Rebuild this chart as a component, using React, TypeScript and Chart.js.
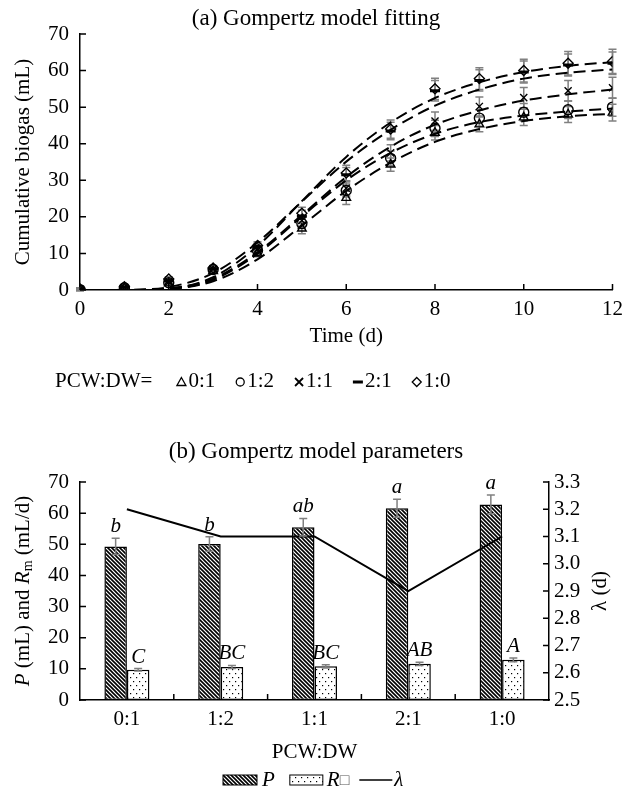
import React, { useEffect, useRef } from 'react';
import { Chart, registerables } from 'chart.js';
Chart.register(...registerables);

const FONT = "'Liberation Serif', 'Times New Roman', 'DejaVu Serif', serif";

// ---------- (a) Gompertz model fitting ----------
const days = [0, 1, 2, 3, 4, 5, 6, 7, 8, 9, 10, 11, 12];
const seriesLabels = ['0:1', '1:2', '1:1', '2:1', '1:0'];

// observed cumulative biogas (mL)
const obs01 = [0.1, 0.5, 1.8, 5.2, 10.0, 16.8, 25.2, 34.3, 43.0, 45.3, 47.2, 48.0, 48.5];
const obs12 = [0.1, 0.6, 2.0, 5.6, 10.8, 18.2, 27.2, 36.0, 44.2, 47.0, 48.6, 49.3, 50.0];
const obs11 = [0.2, 0.7, 2.2, 5.7, 11.2, 19.0, 27.8, 37.5, 46.2, 50.2, 52.6, 54.5, 55.3];
const obs21 = [0.2, 0.8, 2.5, 5.8, 11.8, 20.2, 31.5, 43.5, 54.5, 57.3, 59.6, 61.5, 62.0];
const obs10 = [0.3, 0.9, 3.0, 6.0, 12.2, 21.0, 32.0, 44.0, 55.0, 57.8, 60.0, 62.0, 62.5];

// standard deviations
const err01 = [0.3, 0.4, 0.5, 0.6, 0.9, 1.4, 1.8, 1.8, 2.0, 2.0, 2.2, 2.2, 2.3];
const err12 = [0.3, 0.4, 0.5, 0.6, 0.9, 1.4, 1.8, 2.0, 2.2, 2.2, 2.4, 2.4, 2.5];
const err11 = [0.3, 0.4, 0.6, 0.6, 1.0, 1.5, 2.0, 2.2, 2.5, 2.6, 2.8, 2.8, 2.9];
const err21 = [0.3, 0.4, 0.6, 0.7, 1.0, 1.6, 2.0, 2.4, 2.8, 2.9, 3.0, 3.0, 3.1];
const err10 = [0.3, 0.5, 0.6, 0.7, 1.0, 1.6, 2.1, 2.5, 2.9, 3.0, 3.1, 3.2, 3.3];

// fitted Gompertz curves (mL)
const fit01 = [0, 0.01, 0.3, 2.4, 8.4, 17.6, 27.1, 34.8, 40.5, 44.0, 46.2, 47.5, 48.2];
const fit12 = [0, 0.01, 0.3, 2.8, 9.9, 20.1, 30.0, 37.5, 42.7, 45.9, 47.7, 48.8, 49.6];
const fit11 = [0, 0.02, 0.4, 3.1, 10.3, 20.5, 30.9, 39.2, 45.2, 49.1, 51.8, 53.5, 54.8];
const fit21 = [0, 0.05, 0.8, 4.6, 13.0, 24.2, 35.1, 43.8, 50.4, 54.8, 57.8, 59.4, 60.3];
const fit10 = [0, 0.01, 0.4, 3.5, 12.0, 24.3, 36.4, 45.8, 52.5, 56.8, 59.6, 61.3, 62.3];

// ---------- (b) Gompertz model parameters ----------
const ratioLabels = ['0:1', '1:2', '1:1', '2:1', '1:0'];
const pValues = [49.3, 50.1, 55.5, 61.6, 62.8];
const pErrors = [2.6, 2.3, 2.8, 2.9, 3.0];
const rmValues = [9.7, 10.6, 10.8, 11.6, 12.9];
const rmErrors = [0.4, 0.5, 0.5, 0.5, 0.6];
const lambdaValues = [3.2, 3.1, 3.1, 2.9, 3.1];
const pLetters = ['b', 'b', 'ab', 'a', 'a'];
const rmLetters = ['C', 'BC', 'BC', 'AB', 'A'];

const f = (size: number, style = '') => `${style} ${size}px ${FONT}`.trim();

function makeHatch(): CanvasPattern | string {
  const c = document.createElement('canvas');
  c.width = 4; c.height = 4;
  const x = c.getContext('2d')!;
  x.fillStyle = '#fff'; x.fillRect(0, 0, 4, 4);
  x.strokeStyle = '#000'; x.lineWidth = 1.6;
  x.beginPath();
  x.moveTo(-1, -1); x.lineTo(5, 5);
  x.moveTo(-1, 3); x.lineTo(1, 5);
  x.moveTo(3, -1); x.lineTo(5, 1);
  x.stroke();
  return x.createPattern(c, 'repeat') || '#444';
}
function makeDots(): CanvasPattern | string {
  const c = document.createElement('canvas');
  c.width = 6; c.height = 8;
  const x = c.getContext('2d')!;
  x.fillStyle = '#fff'; x.fillRect(0, 0, 6, 8);
  x.fillStyle = '#000';
  x.fillRect(1, 1, 1.2, 1.2);
  x.fillRect(4, 5, 1.2, 1.2);
  return x.createPattern(c, 'repeat') || '#eee';
}

function drawErrorBars(chart: any) {
  const ctx = chart.ctx;
  chart.data.datasets.forEach((ds: any, i: number) => {
    if (!ds.errorBars) return;
    const meta = chart.getDatasetMeta(i);
    const ys = chart.scales[meta.yAxisID];
    ctx.save();
    ctx.strokeStyle = '#808080';
    ctx.lineWidth = 1.5;
    meta.data.forEach((el: any, j: number) => {
      const raw = ds.data[j];
      const v = typeof raw === 'number' ? raw : raw.y;
      const e = ds.errorBars[j];
      const x = el.x;
      const yt = ys.getPixelForValue(v + e);
      const yb = ys.getPixelForValue(v - e);
      ctx.beginPath();
      ctx.moveTo(x, yt); ctx.lineTo(x, yb);
      ctx.moveTo(x - 4, yt); ctx.lineTo(x + 4, yt);
      ctx.moveTo(x - 4, yb); ctx.lineTo(x + 4, yb);
      ctx.stroke();
      if (ds.letters) {
        ctx.fillStyle = '#000';
        ctx.font = f(21, 'italic');
        ctx.textAlign = 'center';
        ctx.textBaseline = 'alphabetic';
        ctx.fillText(ds.letters[j], x, yt - 6);
      }
    });
    ctx.restore();
  });
}

const errorBarsBefore = { id: 'errBefore', beforeDatasetsDraw: (c: any) => drawErrorBars(c) };
const errorBarsAfter = { id: 'errAfter', afterDatasetsDraw: (c: any) => drawErrorBars(c) };

const innerTicks = {
  id: 'innerTicks',
  afterDraw(chart: any) {
    const ctx = chart.ctx;
    const { left, right, bottom } = chart.chartArea;
    const len = 6;
    ctx.save();
    ctx.strokeStyle = '#000';
    ctx.lineWidth = 1.5;
    ctx.beginPath();
    Object.values(chart.scales).forEach((s: any) => {
      if (s.axis === 'x') {
        if (s.type === 'category') {
          for (let i = 1; i < s.ticks.length; i++) {
            const x = s.getPixelForValue(i - 0.5);
            ctx.moveTo(x, bottom); ctx.lineTo(x, bottom - len);
          }
        } else {
          s.ticks.forEach((t: any) => {
            const x = s.getPixelForValue(t.value);
            ctx.moveTo(x, bottom); ctx.lineTo(x, bottom - len);
          });
        }
      } else {
        s.ticks.forEach((t: any) => {
          const y = s.getPixelForValue(t.value);
          if (s.position === 'left') { ctx.moveTo(left, y); ctx.lineTo(left + len, y); }
          else { ctx.moveTo(right, y); ctx.lineTo(right - len, y); }
        });
      }
    });
    ctx.stroke();
    ctx.restore();
  },
};

function drawSymbol(ctx: CanvasRenderingContext2D, kind: string, cx: number, cy: number) {
  ctx.save();
  ctx.strokeStyle = '#000';
  ctx.fillStyle = '#000';
  ctx.lineWidth = 1.3;
  ctx.beginPath();
  if (kind === 'triangle') {
    ctx.moveTo(cx, cy - 4.5); ctx.lineTo(cx - 4.5, cy + 3.5); ctx.lineTo(cx + 4.5, cy + 3.5); ctx.closePath(); ctx.stroke();
  } else if (kind === 'circle') {
    ctx.arc(cx, cy, 4, 0, Math.PI * 2); ctx.stroke();
  } else if (kind === 'crossRot') {
    ctx.moveTo(cx - 4, cy - 4); ctx.lineTo(cx + 4, cy + 4);
    ctx.moveTo(cx + 4, cy - 4); ctx.lineTo(cx - 4, cy + 4);
    ctx.lineWidth = 1.8; ctx.stroke();
  } else if (kind === 'line') {
    ctx.fillRect(cx - 5, cy - 1.5, 10, 3);
  } else if (kind === 'rectRot') {
    ctx.moveTo(cx, cy - 4.5); ctx.lineTo(cx + 4.5, cy); ctx.lineTo(cx, cy + 4.5); ctx.lineTo(cx - 4.5, cy); ctx.closePath(); ctx.stroke();
  }
  ctx.restore();
}

const pointStyles = ['triangle', 'circle', 'crossRot', 'line', 'rectRot'];
const observed = [obs01, obs12, obs11, obs21, obs10];
const errors = [err01, err12, err11, err21, err10];
const fits = [fit01, fit12, fit11, fit21, fit10];

const topText = {
  id: 'topText',
  afterDraw(chart: any) {
    const ctx = chart.ctx;
    const ca = chart.chartArea;
    ctx.save();
    ctx.fillStyle = '#000';
    ctx.textAlign = 'center';
    ctx.textBaseline = 'middle';
    ctx.font = f(23);
    ctx.fillText('(a) Gompertz model fitting', 316, 19);
    ctx.font = f(21);
    ctx.fillText('Time (d)', (ca.left + ca.right) / 2, 336);
    ctx.save();
    ctx.translate(23, (ca.top + ca.bottom) / 2);
    ctx.rotate(-Math.PI / 2);
    ctx.fillText('Cumulative biogas (mL)', 0, 0);
    ctx.restore();
    // legend
    const ly = 381;
    ctx.textAlign = 'left';
    let x = 55;
    const head = 'PCW:DW=';
    ctx.fillText(head, x, ly);
    x += ctx.measureText(head).width + 25;
    seriesLabels.forEach((lab, i) => {
      drawSymbol(ctx, pointStyles[i], x + 4, ly + 1);
      ctx.fillText(lab, x + 11, ly);
      x += 11 + ctx.measureText(lab).width + 21;
    });
    ctx.restore();
  },
};

function richParts() {
  return [
    { t: 'P', font: f(21, 'italic'), dy: 0 },
    { t: ' (mL) and ', font: f(21), dy: 0 },
    { t: 'R', font: f(21, 'italic'), dy: 0 },
    { t: 'm', font: f(14), dy: 5 },
    { t: ' (mL/d)', font: f(21), dy: 0 },
  ];
}

function makeBottomText(hatch: any, dots: any) {
  return {
    id: 'botText',
    afterDraw(chart: any) {
      const ctx = chart.ctx;
      const ca = chart.chartArea;
      const midY = (ca.top + ca.bottom) / 2;
      ctx.save();
      ctx.fillStyle = '#000';
      ctx.textAlign = 'center';
      ctx.textBaseline = 'middle';
      ctx.font = f(23);
      ctx.fillText('(b) Gompertz model parameters', 316, 52);
      ctx.font = f(21);
      ctx.fillText('PCW:DW', (ca.left + ca.right) / 2, 352);
      // right title
      ctx.save();
      ctx.translate(600, midY);
      ctx.rotate(-Math.PI / 2);
      ctx.fillText('λ (d)', 0, 0);
      ctx.restore();
      // left rich title
      ctx.save();
      ctx.translate(23, midY);
      ctx.rotate(-Math.PI / 2);
      const parts = richParts();
      let total = 0;
      parts.forEach(p => { ctx.font = p.font; total += ctx.measureText(p.t).width; });
      let px = -total / 2;
      ctx.textAlign = 'left';
      parts.forEach(p => {
        ctx.font = p.font;
        ctx.fillText(p.t, px, p.dy);
        px += ctx.measureText(p.t).width;
      });
      ctx.restore();
      // legend
      const ly = 380;
      ctx.textAlign = 'left';
      let x = 223;
      ctx.fillStyle = hatch; ctx.fillRect(x, ly - 5, 34, 10);
      ctx.strokeStyle = '#000'; ctx.lineWidth = 1; ctx.strokeRect(x, ly - 5, 34, 10);
      x += 39;
      ctx.fillStyle = '#000'; ctx.font = f(21, 'italic');
      ctx.fillText('P', x, ly);
      x += ctx.measureText('P').width + 15;
      ctx.fillStyle = dots; ctx.fillRect(x, ly - 5, 33, 10);
      ctx.strokeRect(x, ly - 5, 33, 10);
      x += 37;
      ctx.fillStyle = '#000'; ctx.font = f(21, 'italic');
      ctx.fillText('R', x, ly);
      x += ctx.measureText('R').width;
      ctx.font = f(16);
      ctx.fillStyle = '#555';
      ctx.fillText('□', x, ly + 1);
      x += ctx.measureText('□').width + 10;
      ctx.strokeStyle = '#000'; ctx.lineWidth = 1.5;
      ctx.beginPath(); ctx.moveTo(x, ly); ctx.lineTo(x + 33, ly); ctx.stroke();
      x += 35;
      ctx.fillStyle = '#000'; ctx.font = f(21, 'italic');
      ctx.fillText('λ', x, ly);
      ctx.restore();
    },
  };
}

const axisBorder = { display: true, color: '#000', width: 1.5 };
const noGrid = { display: false, drawTicks: false };

export default function App() {
  const topRef = useRef<HTMLCanvasElement>(null);
  const botRef = useRef<HTMLCanvasElement>(null);

  useEffect(() => {
    Chart.defaults.font.family = FONT;
    Chart.defaults.color = '#000';

    const fitSets = fits.map((fit, i) => ({
      type: 'line',
      label: 'fit ' + seriesLabels[i],
      data: days.map((d, k) => ({ x: d, y: fit[k] })),
      borderColor: '#000',
      borderWidth: 2,
      borderDash: [12, 6],
      pointRadius: 0,
      cubicInterpolationMode: 'monotone',
      fill: false,
      order: 2,
    }));
    const obsSets = observed.map((obs, i) => ({
      type: 'line',
      label: seriesLabels[i],
      data: days.map((d, k) => ({ x: d, y: obs[k] })),
      showLine: false,
      pointStyle: pointStyles[i],
      pointRadius: 5,
      pointBorderColor: '#000',
      pointBackgroundColor: 'rgba(255,255,255,0)',
      pointBorderWidth: pointStyles[i] === 'line' ? 3 : 1.4,
      errorBars: errors[i],
      order: 1,
    }));

    const top = new Chart(topRef.current!, {
      type: 'line',
      data: { datasets: [...fitSets, ...obsSets] as any },
      options: {
        responsive: false,
        animation: false,
        devicePixelRatio: 1,
        layout: { padding: { top: 34, right: 11, left: 0, bottom: 0 } },
        plugins: { legend: { display: false }, tooltip: { enabled: false }, title: { display: false } },
        scales: {
          x: {
            type: 'linear', min: 0, max: 12,
            ticks: { stepSize: 2, font: { size: 21 }, padding: 7, color: '#000', autoSkip: false, maxRotation: 0 },
            grid: noGrid, border: axisBorder,
            afterFit: (s: any) => { s.height = 110; },
          },
          y: {
            type: 'linear', min: 0, max: 70,
            ticks: { stepSize: 10, font: { size: 21 }, padding: 11, color: '#000', autoSkip: false },
            grid: noGrid, border: axisBorder,
            afterFit: (s: any) => { s.width = 80; },
          },
        },
      } as any,
      plugins: [errorBarsBefore, innerTicks, topText],
    });

    const hatch = makeHatch();
    const dots = makeDots();

    const bot = new Chart(botRef.current!, {
      type: 'bar',
      data: {
        labels: ratioLabels,
        datasets: [
          {
            type: 'line',
            label: 'λ',
            data: lambdaValues,
            yAxisID: 'y1',
            borderColor: '#000',
            borderWidth: 2,
            pointRadius: 0,
            tension: 0,
            fill: false,
            order: -1,
          },
          {
            type: 'bar',
            label: 'P',
            data: pValues,
            yAxisID: 'y',
            backgroundColor: hatch,
            borderColor: '#000',
            borderWidth: 1.5,
            borderSkipped: false,
            categoryPercentage: 0.48,
            barPercentage: 1,
            errorBars: pErrors,
            letters: pLetters,
            order: 1,
          },
          {
            type: 'bar',
            label: 'Rm',
            data: rmValues,
            yAxisID: 'y',
            backgroundColor: dots,
            borderColor: '#000',
            borderWidth: 1.5,
            borderSkipped: false,
            categoryPercentage: 0.48,
            barPercentage: 1,
            errorBars: rmErrors,
            letters: rmLetters,
            order: 1,
          },
        ] as any,
      },
      options: {
        responsive: false,
        animation: false,
        devicePixelRatio: 1,
        layout: { padding: { top: 82, right: 0, left: 0, bottom: 0 } },
        plugins: { legend: { display: false }, tooltip: { enabled: false }, title: { display: false } },
        scales: {
          x: {
            type: 'category',
            offset: true,
            ticks: { font: { size: 21 }, padding: 7, color: '#000', autoSkip: false, maxRotation: 0 },
            grid: { display: false, drawTicks: false, offset: true },
            border: axisBorder,
            afterFit: (s: any) => { s.height = 96; },
          },
          y: {
            type: 'linear', position: 'left', min: 0, max: 70,
            ticks: { stepSize: 10, font: { size: 21 }, padding: 11, color: '#000', autoSkip: false },
            grid: noGrid, border: axisBorder,
            afterFit: (s: any) => { s.width = 80; },
          },
          y1: {
            type: 'linear', position: 'right', min: 2.5, max: 3.3,
            ticks: {
              stepSize: 0.1, font: { size: 21 }, padding: 5, color: '#000', autoSkip: false,
              callback: (v: any) => Number(v).toFixed(1),
            },
            grid: noGrid, border: axisBorder,
            afterFit: (s: any) => { s.width = 81; },
          },
        },
      } as any,
      plugins: [errorBarsAfter, innerTicks, makeBottomText(hatch, dots)],
    });

    return () => { top.destroy(); bot.destroy(); };
  }, []);

  return (
    <div style={{ position: 'fixed', left: 0, top: 0, width: 630, height: 796, background: '#fff' }}>
      <canvas ref={topRef} width={630} height={400}
        style={{ position: 'absolute', left: 0, top: 0, width: 630, height: 400, display: 'block' }} />
      <canvas ref={botRef} width={630} height={396}
        style={{ position: 'absolute', left: 0, top: 400, width: 630, height: 396, display: 'block' }} />
    </div>
  );
}
